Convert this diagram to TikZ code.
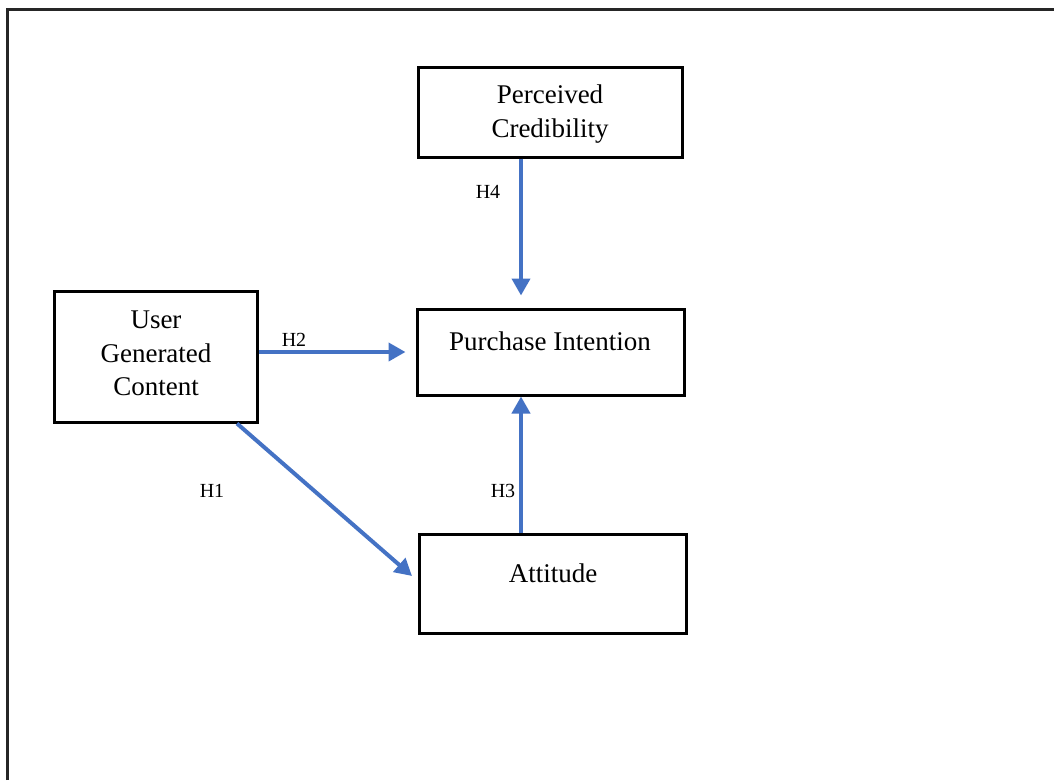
\documentclass[tikz,border=0pt]{standalone}
\usepackage{fontspec}
\setmainfont{Liberation Serif}
\usetikzlibrary{arrows.meta,calc}
\definecolor{arrblue}{HTML}{4472C4}
\tikzset{
  box/.style={draw=black, line width=3pt, inner sep=0pt, fill=white},
  boxtext/.style={font=\fontsize{27}{33.5}\selectfont, align=center, inner sep=0pt},
  hyplabel/.style={font=\fontsize{20}{24}\selectfont, inner sep=0pt},
  arr/.style={draw=arrblue, line width=4pt, -{Triangle[width=18pt,length=17pt]}},
}
\begin{document}
\begin{tikzpicture}[x=1pt,y=-1pt]
\useasboundingbox (0,0) rectangle (1054,780);
\draw[line width=3pt, black!85] (7,780) -- (7,9) -- (1054,9);

\node[box, minimum width=264pt, minimum height=90pt] (pc) at (550,112) {};
\node[boxtext] (pctext) at (550,114) {Perceived\\Credibility};

\node[box, minimum width=267pt, minimum height=86pt] (pi) at (550.5,352) {};
\node[boxtext] (pitext) at (550,341) {Purchase Intention};

\node[box, minimum width=203pt, minimum height=131pt] (ugc) at (155.5,356.5) {};
\node[boxtext] (ugctext) at (156,353.5) {User\\Generated\\Content};

\node[box, minimum width=267pt, minimum height=99pt] (att) at (552.5,583.5) {};
\node[boxtext] (atttext) at (553,573) {Attitude};

\coordinate (h1end) at (412,576);

\draw[arr, shorten >=12pt] ([xshift=-29pt]pc.south) -- ([xshift=-29.5pt]pi.north);
\draw[arr, shorten >=10pt] (ugc.east |- pi.west) -- (pi.west);
\draw[arr] ([xshift=81.5pt]ugc.south) -- (h1end);
\draw[arr] ([xshift=-31.5pt]att.north) -- ([xshift=-29.5pt]pi.south);

\node[hyplabel] (l4) at (488,192) {H4};
\node[hyplabel] (l2) at (294,340) {H2};
\node[hyplabel] (l1) at (212,491) {H1};
\node[hyplabel] (l3) at (503,491) {H3};
\end{tikzpicture}
\end{document}
